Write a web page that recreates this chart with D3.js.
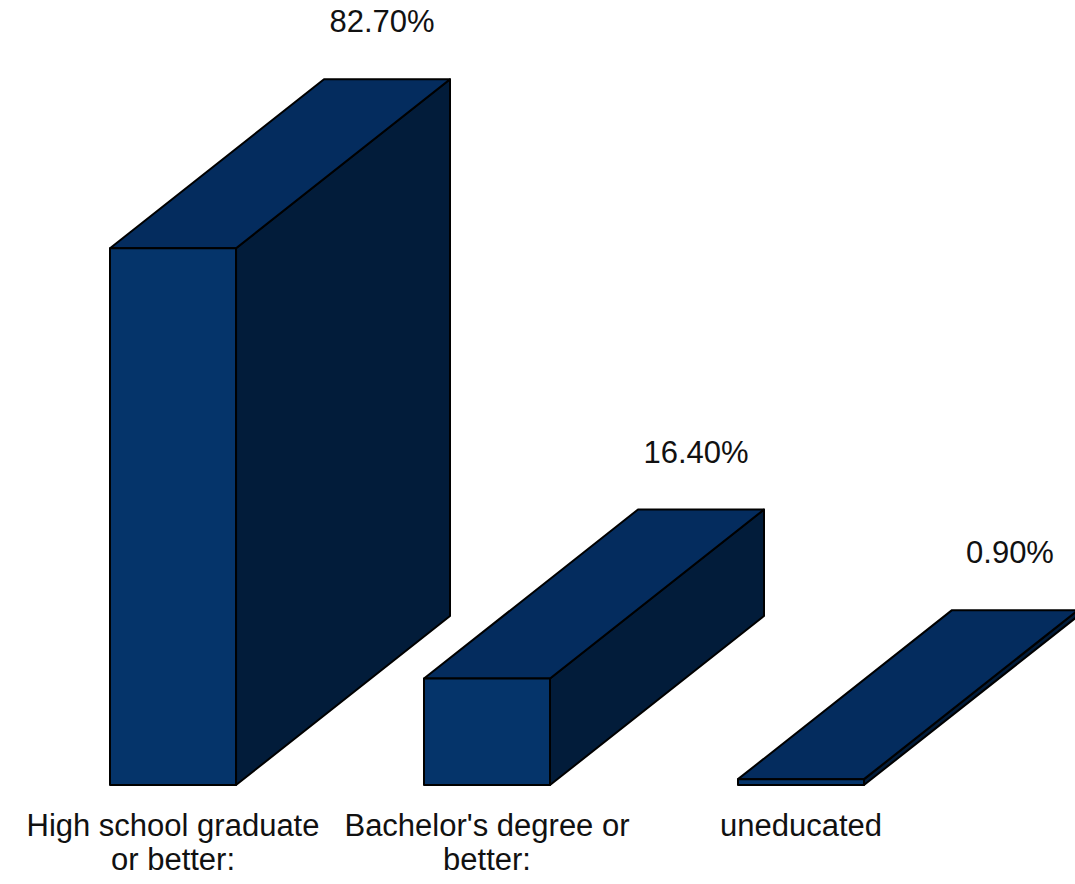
<!DOCTYPE html>
<html>
<head>
<meta charset="utf-8">
<script src="https://cdn.jsdelivr.net/npm/d3@7"></script>
<style>
  html, body { margin: 0; padding: 0; background: #fff; }
  svg { display: block; }
  text { font-family: "Liberation Sans", Arial, sans-serif; fill: #111; }
</style>
</head>
<body>
<script>
// Education attainment shares (percent)
const categories = ["High school graduate or better:", "Bachelor's degree or better:", "uneducated"];
const categoryLines = [["High school graduate", "or better:"], ["Bachelor's degree or", "better:"], ["uneducated"]];
const values = [82.7, 16.4, 0.9];
const valueLabels = ["82.70%", "16.40%", "0.90%"];

const W = 1075, H = 884;
const depthX = 214, depthY = -169;   // oblique 3D extrusion
const colors = { front: "#05346a", top: "#042c5e", side: "#021c3a" };

const svg = d3.select("body").append("svg").attr("width", W).attr("height", H);

const x = d3.scaleBand().domain(categories).range([110, 864]).paddingInner(0.5987).paddingOuter(0);
const y = d3.scaleLinear().domain([0, 100]).range([785, 136]);

const bars = svg.selectAll("g.bar").data(categories).join("g").attr("class", "bar");

bars.each(function(c, i) {
  const g = d3.select(this);
  const x0 = x(c), x1 = x(c) + x.bandwidth();
  const y0 = y(0), y1 = y(values[i]);
  const pts = a => a.map(p => p.join(",")).join(" ");
  // side face
  g.append("polygon")
    .attr("points", pts([[x1, y1], [x1 + depthX, y1 + depthY], [x1 + depthX, y0 + depthY], [x1, y0]]))
    .attr("fill", colors.side);
  // top face
  g.append("polygon")
    .attr("points", pts([[x0, y1], [x0 + depthX, y1 + depthY], [x1 + depthX, y1 + depthY], [x1, y1]]))
    .attr("fill", colors.top);
  // front face
  g.append("polygon")
    .attr("points", pts([[x0, y1], [x1, y1], [x1, y0], [x0, y0]]))
    .attr("fill", colors.front);
  g.selectAll("polygon")
    .attr("stroke", "#000").attr("stroke-width", 2).attr("stroke-linejoin", "round");

  // value label above the back edge
  g.append("text")
    .attr("x", (x0 + x1) / 2 + depthX - 5)
    .attr("y", y1 + depthY - 47)
    .attr("text-anchor", "middle")
    .attr("font-size", 31)
    .text(valueLabels[i]);

  // category label under the front face
  const t = g.append("text")
    .attr("text-anchor", "middle")
    .attr("font-size", 31);
  categoryLines[i].forEach((line, k) => {
    t.append("tspan")
      .attr("x", (x0 + x1) / 2)
      .attr("y", 836 + k * 34)
      .text(line);
  });
});
</script>
</body>
</html>
